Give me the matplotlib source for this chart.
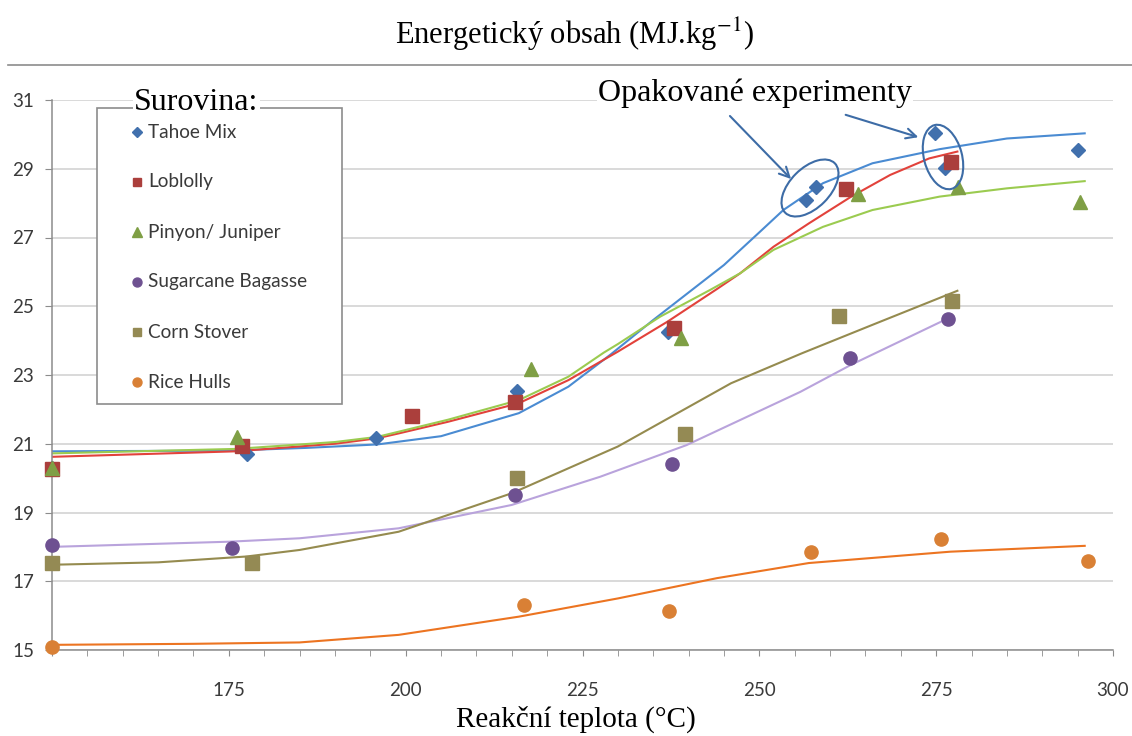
import numpy as np
import matplotlib
matplotlib.use('Agg')
import matplotlib.pyplot as plt
from matplotlib.lines import Line2D
from matplotlib.patches import Rectangle, Ellipse, FancyArrowPatch
from matplotlib.transforms import IdentityTransform

plt.rcParams['mathtext.fontset'] = 'stix'

W, H = 1132, 736

# measured points (temperature, energy content)
series_names = ['Tahoe Mix', 'Loblolly', 'Pinyon/ Juniper', 'Sugarcane Bagasse', 'Corn Stover', 'Rice Hulls']

tahoe_x = [150, 177.5, 195.8, 215.7, 237.1, 256.6, 258.0, 274.9, 276.3, 295.1]
tahoe_y = [20.3, 20.70, 21.18, 22.54, 24.26, 28.09, 28.46, 30.03, 29.03, 29.55]
lob_x = [150, 176.8, 200.9, 215.4, 238.0, 262.2, 277.1]
lob_y = [20.28, 20.93, 21.81, 22.21, 24.38, 28.40, 29.20]
pin_x = [150, 176.2, 217.7, 238.9, 264.0, 278.1, 295.3]
pin_y = [20.3, 21.19, 23.17, 24.07, 28.26, 28.46, 28.03]
sug_x = [150, 175.5, 215.4, 237.6, 262.8, 276.7]
sug_y = [18.05, 17.98, 19.52, 20.42, 23.49, 24.63]
corn_x = [150, 178.3, 215.8, 239.5, 261.3, 277.3]
corn_y = [17.52, 17.52, 20.0, 21.29, 24.72, 25.15]
rice_x = [150, 216.7, 237.2, 257.3, 275.7, 296.4]
rice_y = [15.08, 16.30, 16.14, 17.84, 18.23, 17.58]

# trend curves
tr_tahoe_x = [150, 175, 186, 196, 205, 216, 223, 229, 235, 240, 245, 250, 253.4, 259, 266, 275.5, 285, 296]
tr_tahoe_y = [20.78, 20.80, 20.88, 20.98, 21.22, 21.89, 22.66, 23.6, 24.6, 25.4, 26.2, 27.15, 27.8, 28.58, 29.16, 29.57, 29.88, 30.03]
tr_lob_x = [150, 176, 190, 196, 199, 206, 216, 223, 230, 237, 244, 247.3, 252, 257, 263, 268.5, 274, 278]
tr_lob_y = [20.62, 20.78, 21.0, 21.16, 21.30, 21.64, 22.18, 22.85, 23.68, 24.55, 25.5, 25.96, 26.73, 27.41, 28.19, 28.82, 29.30, 29.50]
tr_pin_x = [150, 176, 190, 196, 199, 206, 216, 223, 228, 230, 236, 243, 247.3, 252, 259, 266, 275.5, 285, 296]
tr_pin_y = [20.72, 20.85, 21.05, 21.2, 21.35, 21.7, 22.27, 22.95, 23.65, 23.9, 24.7, 25.47, 25.96, 26.64, 27.31, 27.80, 28.19, 28.43, 28.64]
tr_sug_x = [150, 175, 185, 199, 215, 227.5, 239.7, 255.8, 263, 276.7]
tr_sug_y = [18.0, 18.15, 18.25, 18.54, 19.22, 20.04, 20.96, 22.51, 23.3, 24.65]
tr_corn_x = [150, 165, 177.5, 185, 199, 215, 230, 246, 256, 266, 278]
tr_corn_y = [17.48, 17.55, 17.72, 17.91, 18.44, 19.56, 20.92, 22.76, 23.63, 24.46, 25.45]
tr_rice_x = [150, 170, 185, 199, 216, 230, 244, 257, 277, 296]
tr_rice_y = [15.15, 15.18, 15.22, 15.44, 15.97, 16.5, 17.09, 17.53, 17.86, 18.03]

mk_colors = ['#4170ad', '#ab3f3c', '#7f9f45', '#6e5191', '#948a54', '#d98035']
tr_colors = ['#4a8bd2', '#e2423b', '#9bcb50', '#b9a3dc', '#958b4f', '#ec7421']
markers = ['D', 's', '^', 'o', 's', 'o']
msizes = [7.5, 9.5, 10, 9.5, 9.5, 9.5]

pts = [(tahoe_x, tahoe_y), (lob_x, lob_y), (pin_x, pin_y), (sug_x, sug_y), (corn_x, corn_y), (rice_x, rice_y)]
trends = [(tr_tahoe_x, tr_tahoe_y), (tr_lob_x, tr_lob_y), (tr_pin_x, tr_pin_y),
          (tr_sug_x, tr_sug_y), (tr_corn_x, tr_corn_y), (tr_rice_x, tr_rice_y)]

fig = plt.figure(figsize=(W / 100, H / 100), dpi=100)
ax = fig.add_axes([52 / W, 1 - 650 / H, (1113 - 52) / W, (650 - 100) / H])

for i in range(6):
    ax.plot(trends[i][0], trends[i][1], '-', color=tr_colors[i], lw=1.5, zorder=2)
for i in range(6):
    ax.plot(pts[i][0], pts[i][1], linestyle='none', marker=markers[i], ms=msizes[i],
            color=mk_colors[i], mec=mk_colors[i], zorder=3, clip_on=False)

ax.set_xlim(150, 300)
ax.set_ylim(15, 31)
ax.set_xticks([150, 175, 200, 225, 250, 275, 300])
ax.set_xticklabels(['', '175', '200', '225', '250', '275', '300'])
ax.set_xticks(np.arange(150, 301, 5), minor=True)
ax.set_yticks(np.arange(15, 32, 2))
ax.grid(axis='y', color='#d0d0d0', lw=1.1)
ax.set_axisbelow(True)
for s in ['top', 'right']:
    ax.spines[s].set_visible(False)
for s in ['left', 'bottom']:
    ax.spines[s].set_color('#8c8c8c')
    ax.spines[s].set_linewidth(1.1)
ax.tick_params(axis='y', length=5, color='#8c8c8c', pad=8, labelsize=13.5, labelcolor='#3a3a3a')
ax.tick_params(axis='x', which='both', length=4, color='#8c8c8c', pad=19, labelsize=13.5, labelcolor='#3a3a3a')
for lab in ax.get_xticklabels() + ax.get_yticklabels():
    lab.set_family('Lato')

def fx(x):
    return x / W

def fy(y):
    return 1 - y / H

# chart frame top line
fig.add_artist(Line2D([fx(8), 1], [fy(65), fy(65)], color='#8c8c8c', lw=1.2))

fig.text(fx(574), fy(34), r'Energetický obsah (MJ.kg$^{-1}$)', ha='center', va='center',
         family='Liberation Serif', fontsize=22)
fig.text(fx(576), fy(719), 'Reakční teplota (°C)', ha='center', va='center',
         family='Liberation Serif', fontsize=21)

# legend box
fig.add_artist(Rectangle((fx(97), fy(404)), (342 - 97) / W, (404 - 108) / H,
                         transform=fig.transFigure, fc='white', ec='#8c8c8c', lw=1.2, zorder=5))
fig.text(fx(134), fy(102), 'Surovina:', ha='left', va='center', family='Liberation Serif',
         fontsize=23, zorder=6, bbox=dict(fc='white', ec='none', pad=1))
for i in range(6):
    yy = 132 + i * 50
    fig.add_artist(Line2D([fx(137)], [fy(yy)], marker=markers[i], ms=msizes[i] * 0.68,
                          color=mk_colors[i], linestyle='none', zorder=6))
    fig.text(fx(148), fy(yy), series_names[i], ha='left', va='center', family='Lato',
             fontsize=13.7, color='#3a3a3a', zorder=6)

# annotation
fig.text(fx(755), fy(93), 'Opakované experimenty', ha='center', va='center',
         family='Liberation Serif', fontsize=23, zorder=6, bbox=dict(fc='white', ec='none', pad=1))
arr_col = '#3d6ca6'
fig.add_artist(FancyArrowPatch((fx(728), fy(114)), (fx(793), fy(181)), transform=fig.transFigure,
                               arrowstyle='->', mutation_scale=18, color=arr_col, lw=1.5))
fig.add_artist(FancyArrowPatch((fx(843), fy(114)), (fx(921), fy(138)), transform=fig.transFigure,
                               arrowstyle='->', mutation_scale=18, color=arr_col, lw=1.5))
e1 = Ellipse((810, H - 188), 70, 40, angle=45, fill=False, ec=arr_col, lw=1.5)
e2 = Ellipse((943, H - 157), 66, 38, angle=-75, fill=False, ec=arr_col, lw=1.5)
for e in (e1, e2):
    e.set_transform(IdentityTransform())
    fig.add_artist(e)

fig.savefig('out.png', dpi=100)
